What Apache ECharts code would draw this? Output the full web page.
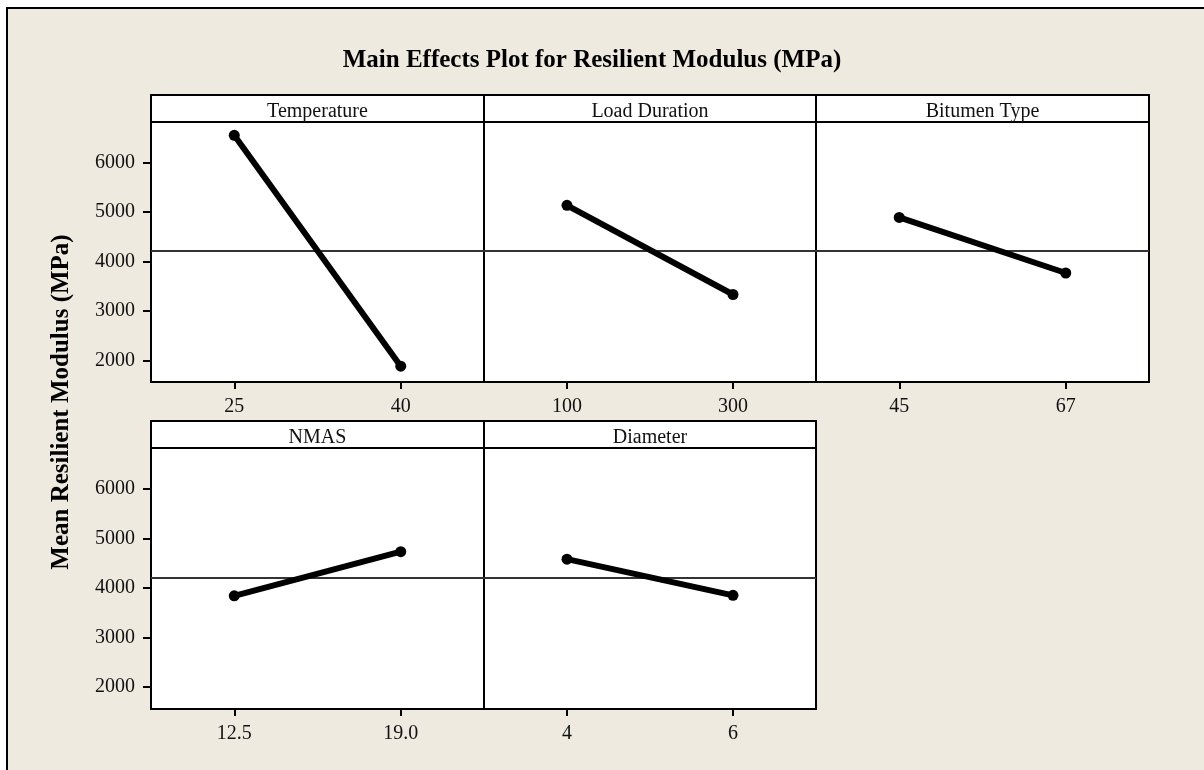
<!DOCTYPE html>
<html>
<head>
<meta charset="utf-8">
<script src="https://cdn.jsdelivr.net/npm/echarts@6/dist/echarts.min.js"></script>
<style>
  html, body { margin: 0; padding: 0; background: #ffffff; }
  #chart { width: 1204px; height: 770px; }
</style>
</head>
<body>
<div id="chart"></div>
<script>
// Factors, their two levels and the mean resilient modulus (MPa) at each level
const factorNames = ['Temperature', 'Load Duration', 'Bitumen Type', 'NMAS', 'Diameter'];
const factorLevels = [
  ['25', '40'],
  ['100', '300'],
  ['45', '67'],
  ['12.5', '19.0'],
  ['4', '6']
];
const levelMeans = [
  [6550, 1880],
  [5135, 3330],
  [4890, 3765],
  [3840, 4730],
  [4580, 3850]
];
const grandMean = 4215;
const yTickValues = [2000, 3000, 4000, 5000, 6000];
const chartTitle = 'Main Effects Plot for Resilient Modulus (MPa)';
const yAxisTitle = 'Mean Resilient Modulus (MPa)';

// Panel layout (3 columns, 2 rows)
const colLeft = [151, 484, 816];
const colWidth = [333, 332, 333];
const rowTop = [122, 448];
const rowHeight = [260, 261];
const headerHeight = 27;
const yMin = 1560, yMax = 6820;

const serif = '"Liberation Serif", "Times New Roman", serif';

const grids = [], xAxes = [], yAxes = [], series = [], graphics = [];

// outer frame
graphics.push({
  type: 'rect', z: -10,
  shape: { x: 7, y: 8, width: 1210, height: 780 },
  style: { fill: '#EEEAE0', stroke: '#000', lineWidth: 2 }
});

factorNames.forEach((name, i) => {
  const col = i % 3, row = Math.floor(i / 3);
  const left = colLeft[col], top = rowTop[row];
  const w = colWidth[col], h = rowHeight[row];
  grids.push({
    left: left, top: top, width: w, height: h,
    show: true, backgroundColor: '#ffffff', borderColor: '#000', borderWidth: 2
  });
  xAxes.push({
    type: 'category', gridIndex: i, data: factorLevels[i], boundaryGap: true,
    axisLine: { show: false },
    axisTick: { show: true, alignWithLabel: true, length: 7, lineStyle: { color: '#000', width: 2 } },
    axisLabel: { color: '#111', fontFamily: serif, fontSize: 20, margin: 15 },
    splitLine: { show: false }
  });
  const showY = col === 0;
  yAxes.push({
    type: 'value', gridIndex: i, min: yMin, max: yMax,
    axisLine: { show: false },
    axisTick: { show: showY, length: 8, customValues: yTickValues, lineStyle: { color: '#000', width: 2 } },
    axisLabel: {
      show: showY, customValues: yTickValues, color: '#111', fontFamily: serif, fontSize: 20, margin: 16,
      formatter: v => String(v)
    },
    splitLine: { show: false }
  });
  series.push({
    type: 'line', xAxisIndex: i, yAxisIndex: i,
    data: levelMeans[i],
    symbol: 'circle', symbolSize: 11,
    lineStyle: { color: '#000', width: 6 },
    itemStyle: { color: '#000' },
    z: 5,
    markLine: {
      silent: true, symbol: 'none', animation: false,
      label: { show: false },
      lineStyle: { color: '#333', width: 2, type: 'solid' },
      data: [{ yAxis: grandMean }]
    }
  });
  // panel header strip
  graphics.push({
    type: 'rect', z: 10,
    shape: { x: left, y: top - headerHeight, width: w, height: headerHeight },
    style: { fill: '#ffffff', stroke: '#000', lineWidth: 2 }
  });
  graphics.push({
    type: 'text', z: 11,
    x: left + w / 2, y: top - headerHeight / 2 + 3,
    style: { text: name, fill: '#111', font: '20px ' + serif, textAlign: 'center', textVerticalAlign: 'middle' }
  });
});

graphics.push({
  type: 'text', z: 11,
  x: 592, y: 61,
  style: { text: chartTitle, fill: '#000', font: 'bold 25px ' + serif, textAlign: 'center', textVerticalAlign: 'middle' }
});
graphics.push({
  type: 'text', z: 11,
  x: 62, y: 402, rotation: Math.PI / 2,
  style: { text: yAxisTitle, fill: '#000', font: 'bold 25px ' + serif, textAlign: 'center', textVerticalAlign: 'middle' }
});

const chart = echarts.init(document.getElementById('chart'));
chart.setOption({
  animation: false,
  backgroundColor: '#ffffff',
  grid: grids,
  xAxis: xAxes,
  yAxis: yAxes,
  series: series,
  graphic: graphics
});
</script>
</body>
</html>
